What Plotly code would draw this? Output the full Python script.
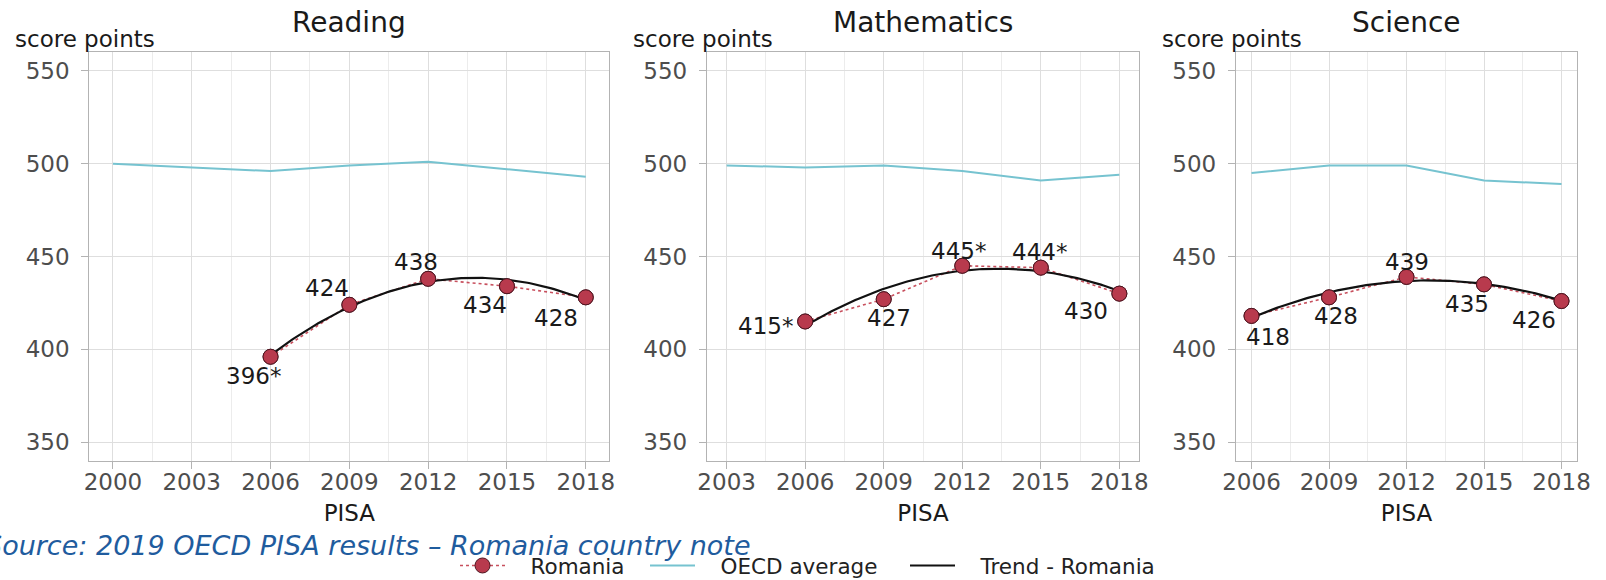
import numpy as np
import plotly.graph_objects as go

W, H = 1606, 580

# ---- PISA mean scores -------------------------------------------------------
subjects = ["Reading", "Mathematics", "Science"]

reading_years = [2006, 2009, 2012, 2015, 2018]
reading_romania = [396, 424, 438, 434, 428]
reading_significant = [True, False, False, False, False]
reading_oecd_years = [2000, 2003, 2006, 2009, 2012, 2015, 2018]
reading_oecd = [500, 498, 496, 499, 501, 497, 493]

math_years = [2006, 2009, 2012, 2015, 2018]
math_romania = [415, 427, 445, 444, 430]
math_significant = [True, False, True, True, False]
math_oecd_years = [2003, 2006, 2009, 2012, 2015, 2018]
math_oecd = [499, 498, 499, 496, 491, 494]

science_years = [2006, 2009, 2012, 2015, 2018]
science_romania = [418, 428, 439, 435, 426]
science_significant = [False, False, False, False, False]
science_oecd_years = [2006, 2009, 2012, 2015, 2018]
science_oecd = [495, 499, 499, 491, 489]

y_ticks = [350, 400, 450, 500, 550]
x_title = "PISA"
y_title = "score points"
source_note = "Source: 2019 OECD PISA results \u2013 Romania country note"
legend_names = ["Romania", "OECD average", "Trend - Romania"]

panels = [
    (reading_years, reading_romania, reading_significant, reading_oecd_years, reading_oecd),
    (math_years, math_romania, math_significant, math_oecd_years, math_oecd),
    (science_years, science_romania, science_significant, science_oecd_years, science_oecd),
]

# ---- layout geometry (pixels) ----------------------------------------------
panel_px = [(89.3, 609.4), (707.0, 1139.0), (1236.0, 1577.0)]
plot_top, plot_bottom = 52.3, 460.7

# label offsets from each point (dx right, dy down, pixels)
label_offsets = [
    [(-17, 19), (-22, -16.5), (-12.5, -16.5), (-21.7, 19), (-30, 21)],
    [(-40, 4.5), (5, 18.5), (-4, -15), (-1, -16), (-33, 17)],
    [(16, 21), (6.5, 19), (0, -15), (-17.5, 19.5), (-28, 19)],
]

FONT = "DejaVu Sans"
TXT = 23
RED = "#B83A4D"
RED_EDGE = "#4E1621"
TEAL = "#76C3D0"
GRID = "#DEDEDE"
GRID_MINOR = "#ECECEC"
BORDER = "#B3B3B3"
PAD = "\u00a0\u00a0\u00a0"  # gap between legend symbol and its text


def fx(px):
    return px / W


def fy(py):
    return (H - py) / H


fig = go.Figure()
annotations = []

for i, (yrs, rom, sig, oyrs, oecd) in enumerate(panels):
    n = i + 1
    xa = "x" if n == 1 else f"x{n}"
    ya = "y" if n == 1 else f"y{n}"
    first = min(oyrs)
    last = max(oyrs)
    span = last - first

    # OECD average
    fig.add_trace(go.Scatter(
        x=oyrs, y=oecd, mode="lines", name=PAD + legend_names[1],
        line=dict(color=TEAL, width=2),
        xaxis=xa, yaxis=ya, legend="legend2", showlegend=(n == 1),
        hoverinfo="skip"))

    # Romania: dotted connection + points (legend entry)
    fig.add_trace(go.Scatter(
        x=yrs, y=rom, mode="lines+markers", name=PAD + legend_names[0],
        line=dict(color="#C8505E", width=1.6, dash="dot"),
        marker=dict(size=15, color=RED, line=dict(color=RED_EDGE, width=1)),
        xaxis=xa, yaxis=ya, legend="legend", showlegend=(n == 1),
        hoverinfo="skip"))

    # quadratic trend fitted to the Romania scores
    t = np.array(yrs, dtype=float) - 2012
    coef = np.polyfit(t, np.array(rom, dtype=float), 2)
    tt = np.linspace(t.min(), t.max(), 120)
    fig.add_trace(go.Scatter(
        x=tt + 2012, y=np.polyval(coef, tt), mode="lines", name=PAD + legend_names[2],
        line=dict(color="#111111", width=2.2),
        xaxis=xa, yaxis=ya, legend="legend3", showlegend=(n == 1),
        hoverinfo="skip"))

    # points again on top of the trend line
    fig.add_trace(go.Scatter(
        x=yrs, y=rom, mode="markers", showlegend=False,
        marker=dict(size=15, color=RED, line=dict(color=RED_EDGE, width=1)),
        xaxis=xa, yaxis=ya, hoverinfo="skip"))

    # value labels
    for (yr, v, s), (dx, dy) in zip(zip(yrs, rom, sig), label_offsets[i]):
        annotations.append(dict(
            x=yr, y=v, xref=xa, yref=ya, text=f"{v}*" if s else f"{v}",
            showarrow=False, xanchor="center", yanchor="middle",
            xshift=dx, yshift=-dy,
            font=dict(family=FONT, size=TXT, color="#1A1A1A")))

    x0, x1 = panel_px[i]
    axis_common = dict(
        showline=True, mirror=True, linecolor=BORDER, linewidth=1.3,
        ticks="outside", ticklen=7, tickcolor=BORDER, tickwidth=1.2,
        tickfont=dict(family=FONT, size=TXT, color="#4D4D4D"),
        showgrid=True, gridcolor=GRID, gridwidth=1, zeroline=False,
        automargin=False,
    )
    fig.layout[f"xaxis{'' if n == 1 else n}"] = dict(
        axis_common,
        domain=[fx(x0), fx(x1)], anchor=ya,
        range=[first - 0.05 * span, last + 0.05 * span],
        tickmode="array", tickvals=list(range(first, last + 1, 3)),
        ticklabelstandoff=-6,
        minor=dict(tick0=first, dtick=1.5, showgrid=True, gridcolor=GRID_MINOR,
                   gridwidth=1, ticks=""),
        title=dict(text=x_title, standoff=10,
                   font=dict(family=FONT, size=TXT, color="#1A1A1A")),
    )
    fig.layout[f"yaxis{'' if n == 1 else n}"] = dict(
        axis_common,
        domain=[fy(plot_bottom), fy(plot_top)], anchor=xa,
        range=[340, 560], tickmode="array", tickvals=y_ticks,
        ticklabelstandoff=7,
    )

    # panel title and y-axis caption
    annotations.append(dict(
        x=fx((x0 + x1) / 2), y=fy(22.5), xref="paper", yref="paper",
        text=subjects[i], showarrow=False, xanchor="center", yanchor="middle",
        font=dict(family=FONT, size=28, color="#1A1A1A")))
    annotations.append(dict(
        x=fx(x0 - 76), y=fy(39), xref="paper", yref="paper",
        text=y_title, showarrow=False, xanchor="left", yanchor="middle",
        font=dict(family=FONT, size=TXT, color="#1A1A1A")))

annotations.append(dict(
    x=fx(753), y=fy(545), xref="paper", yref="paper",
    text=f"<i>{source_note}</i>", showarrow=False, xanchor="right", yanchor="middle",
    font=dict(family=FONT, size=27, color="#1F5C9E")))

legend_common = dict(
    orientation="h", yanchor="middle", xanchor="left",
    xref="container", yref="container", y=fy(565.5),
    font=dict(family=FONT, size=21.5, color="#222222"),
    bgcolor="rgba(0,0,0,0)", itemwidth=45,
)

fig.update_layout(
    width=W, height=H,
    margin=dict(l=0, r=0, t=0, b=0, autoexpand=False),
    paper_bgcolor="white", plot_bgcolor="white",
    annotations=annotations,
    legend=dict(legend_common, x=fx(455)),
    legend2=dict(legend_common, x=fx(645)),
    legend3=dict(legend_common, x=fx(905)),
)

fig.write_html("out.html")
